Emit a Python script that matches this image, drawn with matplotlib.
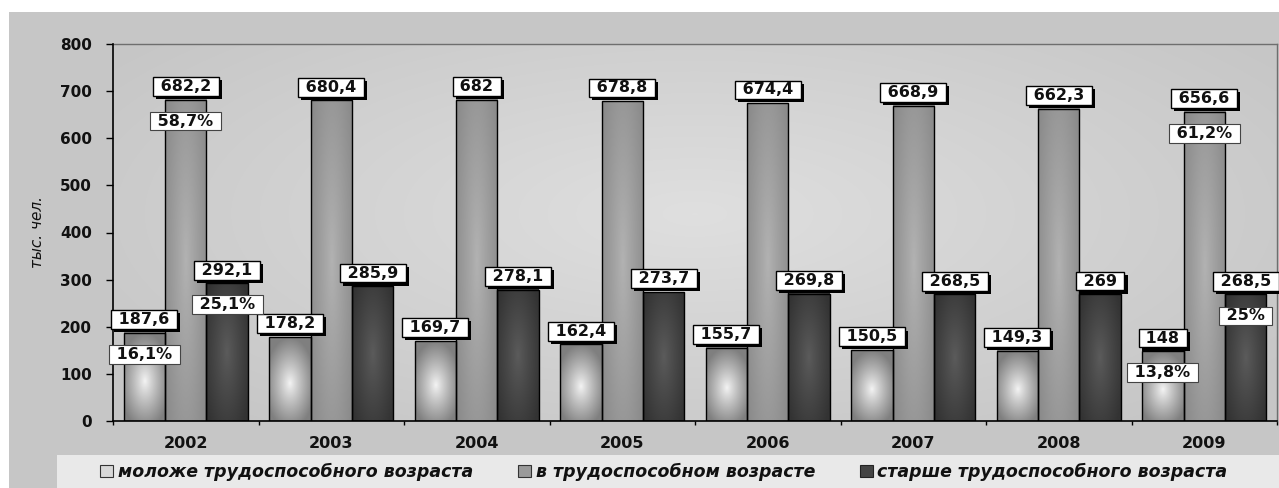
import numpy as np
import matplotlib
matplotlib.use("Agg")
import matplotlib.pyplot as plt
from matplotlib.patches import Rectangle, Patch
from matplotlib import patheffects

years = ["2002", "2003", "2004", "2005", "2006", "2007", "2008", "2009"]
young = [187.6, 178.2, 169.7, 162.4, 155.7, 150.5, 149.3, 148]
working = [682.2, 680.4, 682, 678.8, 674.4, 668.9, 662.3, 656.6]
old = [292.1, 285.9, 278.1, 273.7, 269.8, 268.5, 269, 268.5]
pct_index = [0, 7]
pct_young = [16.1, 13.8]
pct_working = [58.7, 61.2]
pct_old = [25.1, 25.0]
series_names = ["моложе трудоспособного возраста",
                "в трудоспособном возрасте",
                "старше трудоспособного возраста"]
y_ticks = [0, 100, 200, 300, 400, 500, 600, 700, 800]
y_label = "тыс. чел."

W, H = 1279, 488
fig = plt.figure(figsize=(W / 100, H / 100), dpi=100, facecolor="white")

# figure background panels
fig.patches.append(Rectangle((9 / W, 0), 1 - 9 / W, (H - 12) / H,
                             transform=fig.transFigure, facecolor="#c6c6c6",
                             edgecolor="none", zorder=-2))
fig.patches.append(Rectangle((57 / W, 0), 1 - 57 / W, 33 / H,
                             transform=fig.transFigure, facecolor="#e9e9e9",
                             edgecolor="none", zorder=-1))

ax = fig.add_axes([113 / W, 67 / H, (1277 - 113) / W, (421 - 44) / H])
ax.set_zorder(1)
ax.set_facecolor("none")

# plot area gradient background
gy, gx = np.mgrid[0:1:200j, 0:1:400j]
d = np.sqrt(((gx - 0.5) / 0.6) ** 2 + ((gy - 0.55) / 0.7) ** 2)
d = np.clip(d, 0, 1)
c_in, c_out = 0.875, 0.78
bg = (c_in * (1 - d) + c_out * d)
ax.imshow(np.dstack([bg, bg, bg]), extent=[0, 1, 0, 1], transform=ax.transAxes,
          aspect="auto", origin="lower", zorder=0, interpolation="bilinear")

x = np.arange(len(years))
bw = 0.285


def grad(center, edge, cy=0.5, ry=0.6, rx=0.5):
    yy, xx = np.mgrid[0:1:120j, 0:1:60j]
    dd = np.sqrt(((xx - 0.5) / rx) ** 2 + ((yy - cy) / ry) ** 2)
    dd = np.clip(dd, 0, 1) ** 0.9
    v = center * (1 - dd) + edge * dd
    return np.dstack([v, v, v])


styles = [
    (young, -bw, grad(0.96, 0.50, cy=0.45, ry=0.55, rx=0.6)),
    (working, 0.0, grad(0.70, 0.54, cy=0.5, ry=0.8, rx=0.6)),
    (old, bw, grad(0.36, 0.20, cy=0.5, ry=0.7, rx=0.6)),
]

bar_groups = []
for vals, off, img in styles:
    bars = ax.bar(x + off, vals, width=bw, facecolor="none", edgecolor="black",
                  linewidth=1.0, zorder=3)
    for b in bars:
        x0, y0 = b.get_x(), b.get_y()
        ax.imshow(img, extent=[x0, x0 + b.get_width(), y0, y0 + b.get_height()],
                  aspect="auto", origin="lower", zorder=2, clip_path=b,
                  interpolation="bilinear")
    bar_groups.append(bars)

ax.set_xlim(-0.5, len(years) - 0.5)
ax.set_ylim(0, 800)

shadow = [patheffects.SimplePatchShadow(offset=(2.2, -2.2), shadow_rgbFace="black", alpha=1.0),
          patheffects.Normal()]


def fmt(v):
    s = f"{v:g}".replace(".", ",")
    return s


for bars, vals in zip(bar_groups, [young, working, old]):
    for b, v in zip(bars, vals):
        t = ax.annotate(" " + fmt(v) + " ", (b.get_x() + b.get_width() / 2, v),
                        xytext=(0, 9.5), textcoords="offset points",
                        ha="center", va="center", fontsize=11.5, fontweight="bold",
                        family="DejaVu Sans", color="#111111", zorder=6,
                        bbox=dict(boxstyle="square,pad=0.12", facecolor="white",
                                  edgecolor="black", linewidth=1.0))
        t.get_bbox_patch().set_path_effects(shadow)

for bars, pvals in zip(bar_groups, [pct_young, pct_working, pct_old]):
    for i, p in zip(pct_index, pvals):
        b = bars[i]
        ax.annotate(" " + fmt(p) + "% ", (b.get_x() + b.get_width() / 2, b.get_height()),
                    xytext=(0, -15.5), textcoords="offset points",
                    ha="center", va="center", fontsize=11.5, fontweight="bold",
                    family="DejaVu Sans", color="#111111", zorder=6,
                    bbox=dict(boxstyle="square,pad=0.12", facecolor="white",
                              edgecolor="#444444", linewidth=0.8))

# axes styling
ax.set_yticks(y_ticks)
ax.set_yticklabels([str(v) for v in y_ticks], fontsize=11, fontweight="bold",
                   family="DejaVu Sans", color="#111111")
ax.tick_params(axis="y", direction="out", length=5, width=1, pad=10, color="black")
ax.set_xticks(np.arange(len(years) + 1) - 0.5)
ax.set_xticklabels([])
ax.tick_params(axis="x", which="major", direction="out", length=3, width=1, color="black")
ax.set_xticks(x, minor=True)
ax.set_xticklabels(years, minor=True, fontsize=11.5, fontweight="bold",
                   family="DejaVu Sans", color="#111111")
ax.tick_params(axis="x", which="minor", length=0, pad=11)

for s in ["left", "bottom"]:
    ax.spines[s].set_color("black")
    ax.spines[s].set_linewidth(1.2)
    ax.spines[s].set_zorder(5)
for s in ["top", "right"]:
    ax.spines[s].set_color("#6e6e6e")
    ax.spines[s].set_linewidth(1.0)

fig.text(38 / W, 1 - 232 / H, y_label, rotation=90, ha="center", va="center",
         fontsize=11, style="italic", family="DejaVu Sans", color="#111111")

handles = [Patch(facecolor="#d8d8d8", edgecolor="#333333", linewidth=0.8),
           Patch(facecolor="#9a9a9a", edgecolor="#333333", linewidth=0.8),
           Patch(facecolor="#444444", edgecolor="#222222", linewidth=0.8)]
fig.legend(handles, series_names, ncol=3, loc="center",
           bbox_to_anchor=(664 / W, 16 / H), frameon=False,
           prop=dict(family="DejaVu Sans", weight="bold", style="italic", size=12.5),
           handlelength=0.75, handleheight=0.75, handletextpad=0.25,
           columnspacing=2.6, labelcolor="#111111")

fig.savefig("out.png", dpi=100, facecolor="white")
